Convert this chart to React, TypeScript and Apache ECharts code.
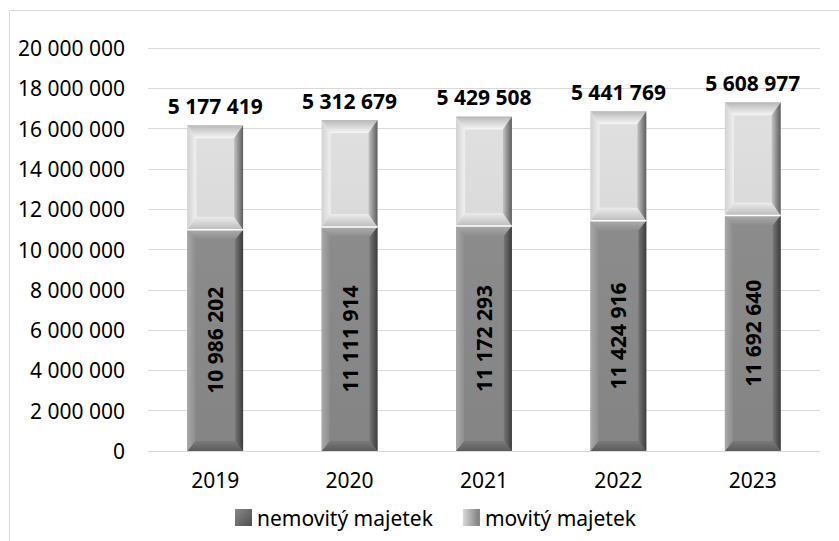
import React, { useEffect, useRef } from "react";
import * as echarts from "echarts";

const years = ["2019", "2020", "2021", "2022", "2023"];
const nemovity = [10986202, 11111914, 11172293, 11424916, 11692640];
const movity = [5177419, 5312679, 5429508, 5441769, 5608977];
const yTicks = { min: 0, max: 20000000, interval: 2000000 };

const fmt = (v: number) => String(Math.round(v)).replace(/\B(?=(\d{3})+(?!\d))/g, " ");
const FONT = "Noto Sans";

type Pal = { face: string[]; top: string[]; bottom: string[]; left: string[]; right: string[]; dx: number; dy: number };

const NEM: Pal = {
  face: ["#8c8c8c", "#848484"],
  top: ["#acacac", "#8c8c8c"],
  bottom: ["#5c5c5c", "#7a7a7a"],
  left: ["#a8a8a8", "#8e8e8e"],
  right: ["#3c3c3c", "#767676"],
  dx: 8,
  dy: 10,
};
const MOV: Pal = {
  face: ["#e0e0e0", "#dadada"],
  top: ["#b8b8b8", "#f6f6f6"],
  bottom: ["#bcbcbc", "#ececec"],
  left: ["#d2d2d2", "#f0f0f0"],
  right: ["#5c5c5c", "#c4c4c4"],
  dx: 9,
  dy: 13,
};

const lg = (x: number, y: number, x2: number, y2: number, c: string[]) =>
  new echarts.graphic.LinearGradient(x, y, x2, y2, [
    { offset: 0, color: c[0] },
    { offset: 1, color: c[1] },
  ]);

function bevel(x0: number, y0: number, x1: number, y1: number, p: Pal) {
  const w = x1 - x0;
  const h = y1 - y0;
  const dx = Math.min(p.dx, w / 2);
  const dy = Math.min(p.dy, h / 2);
  const poly = (pts: number[][], fill: any) => ({ type: "polygon", shape: { points: pts }, style: { fill, stroke: null } });
  return [
    { type: "rect", shape: { x: x0, y: y0, width: w, height: h }, style: { fill: lg(0, 0, 0, 1, p.face) } },
    poly([[x0, y0], [x1, y0], [x1 - dx, y0 + dy], [x0 + dx, y0 + dy]], lg(0, 0, 0, 1, p.top)),
    poly([[x0, y1], [x1, y1], [x1 - dx, y1 - dy], [x0 + dx, y1 - dy]], lg(0, 1, 0, 0, p.bottom)),
    poly([[x0, y0], [x0 + dx, y0 + dy], [x0 + dx, y1 - dy], [x0, y1]], lg(0, 0, 1, 0, p.left)),
    poly([[x1, y0], [x1 - dx, y0 + dy], [x1 - dx, y1 - dy], [x1, y1]], lg(1, 0, 0, 0, p.right)),
  ];
}

const BAR_FRAC = 0.415;

function makeRender(pal: Pal, kind: "nem" | "mov") {
  return (params: any, api: any) => {
    const idx = api.value(0);
    const start = api.value(1);
    const end = api.value(2);
    const pTop = api.coord([idx, end]);
    const pBot = api.coord([idx, start]);
    const band = api.size([1, 0])[0];
    const bw = band * BAR_FRAC;
    const x0 = pTop[0] - bw / 2;
    const x1 = pTop[0] + bw / 2;
    const children: any[] = bevel(x0, pTop[1], x1, pBot[1], pal);
    const val = end - start;
    if (kind === "nem") {
      children.push({
        type: "text",
        x: pTop[0],
        y: (pTop[1] + pBot[1]) / 2,
        rotation: Math.PI / 2,
        style: {
          text: fmt(val),
          fill: "#000",
          font: `bold 21px "${FONT}"`,
          align: "center",
          verticalAlign: "middle",
        },
      });
    } else {
      children.push({
        type: "line",
        shape: { x1: x0, y1: pBot[1], x2: x1, y2: pBot[1] },
        style: { stroke: "#ffffff", lineWidth: 1.5 },
      });
      children.push({
        type: "text",
        x: pTop[0],
        y: pTop[1] - 9,
        style: {
          text: fmt(val),
          fill: "#000",
          font: `bold 21px "${FONT}"`,
          align: "center",
          verticalAlign: "bottom",
        },
      });
    }
    return { type: "group", children };
  };
}

export default function App() {
  const ref = useRef<HTMLDivElement>(null);
  useEffect(() => {
    if (!ref.current) return;
    const chart = echarts.init(ref.current, null, { renderer: "svg" });
    const nemData = years.map((_, i) => [i, 0, nemovity[i]]);
    const movData = years.map((_, i) => [i, nemovity[i], nemovity[i] + movity[i]]);
    chart.setOption({
      animation: false,
      textStyle: { fontFamily: FONT },
      grid: { left: 148, right: 19, top: 48, bottom: 90, containLabel: false },
      graphic: [
        {
          type: "rect",
          shape: { x: 9.5, y: 10.5, width: 900, height: 700 },
          style: { fill: "none", stroke: "#d9d9d9", lineWidth: 1 },
          silent: true,
        },
      ],
      legend: {
        left: 230,
        top: 502,
        itemWidth: 17,
        itemHeight: 17,
        itemGap: 30,
        textStyle: { fontSize: 21, color: "#000", fontFamily: FONT },
        data: [
          { name: "nemovitý majetek", icon: "rect", itemStyle: { color: lg(0, 0, 1, 1, ["#8a8a8a", "#4e4e4e"]) } },
          { name: "movitý majetek", icon: "rect", itemStyle: { color: lg(0, 0, 1, 0, ["#d8d8d8", "#7a7a7a"]) } },
        ],
      },
      xAxis: {
        type: "category",
        data: years,
        axisLine: { lineStyle: { color: "#d9d9d9", width: 1 } },
        axisTick: { show: false },
        axisLabel: { fontSize: 21, color: "#000", margin: 18, fontFamily: FONT },
      },
      yAxis: {
        type: "value",
        min: yTicks.min,
        max: yTicks.max,
        interval: yTicks.interval,
        axisLine: { show: false },
        axisTick: { show: false },
        splitLine: { lineStyle: { color: "#d9d9d9", width: 1 } },
        axisLabel: { fontSize: 21, color: "#000", margin: 23, fontFamily: FONT, formatter: (v: number) => fmt(v) },
      },
      series: [
        {
          name: "nemovitý majetek",
          type: "custom",
          renderItem: makeRender(NEM, "nem"),
          encode: { x: 0, y: [1, 2] },
          itemStyle: { color: "#6e6e6e" },
          data: nemData,
          z: 2,
        },
        {
          name: "movitý majetek",
          type: "custom",
          renderItem: makeRender(MOV, "mov"),
          encode: { x: 0, y: [1, 2] },
          itemStyle: { color: "#b0b0b0" },
          data: movData,
          z: 3,
        },
      ],
    });
    return () => chart.dispose();
  }, []);
  return (
    <div
      ref={ref}
      style={{ position: "fixed", left: 0, top: 0, width: 839, height: 541, background: "#fff" }}
    />
  );
}
